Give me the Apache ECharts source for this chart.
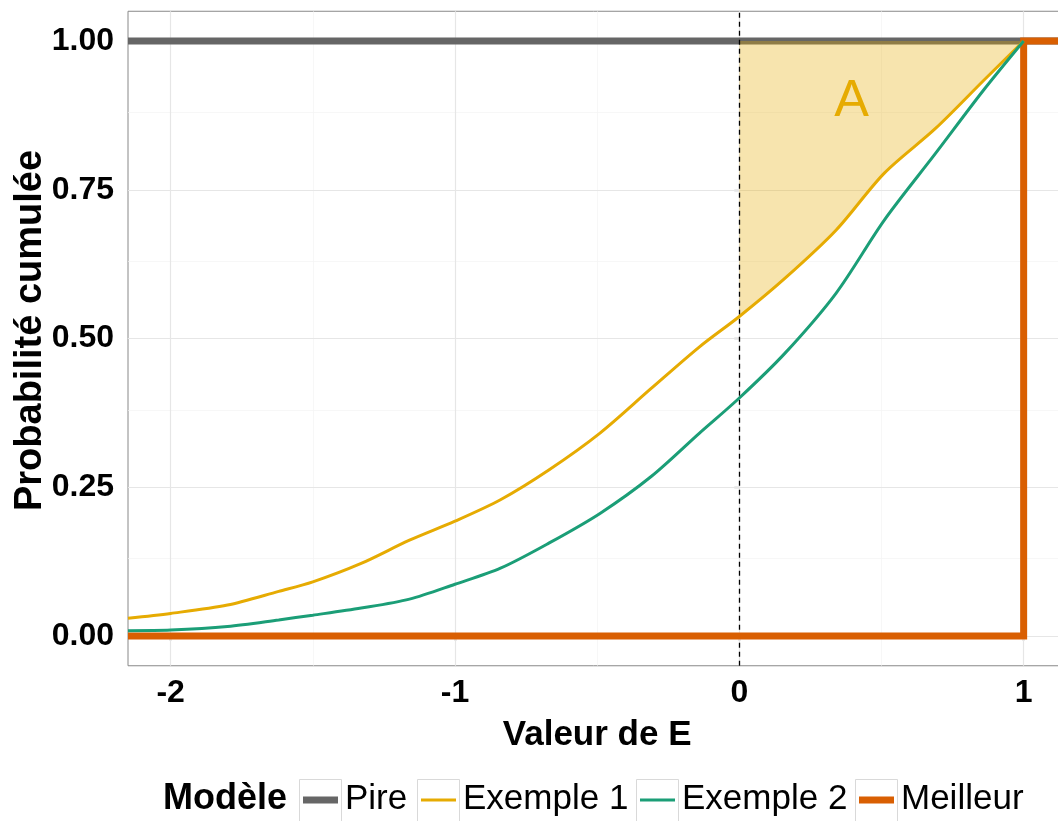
<!DOCTYPE html>
<html>
<head>
<meta charset="utf-8">
<script src="https://cdn.jsdelivr.net/npm/echarts@6/dist/echarts.min.js"></script>
<style>
html,body{margin:0;padding:0;background:#fff;}
#chart{width:1058px;height:821px;}
</style>
</head>
<body>
<div id="chart"></div>
<script>
// ---- data ----
const xTicks = [-2, -1, 0, 1];
const xMinor = [-1.5, -0.5, 0.5];
const yTicks = [0, 0.25, 0.5, 0.75, 1];
const yMinor = [0.125, 0.375, 0.625, 0.875];

const curveX = [-2.15, -2.0, -1.8, -1.62, -1.5, -1.33, -1.16, -1.0, -0.84, -0.67, -0.49, -0.31, -0.14, 0, 0.16, 0.34, 0.51, 0.69, 0.86, 1.0];
const ex1Y = [0.030, 0.038, 0.052, 0.075, 0.091, 0.122, 0.161, 0.193, 0.229, 0.279, 0.341, 0.416, 0.486, 0.537, 0.601, 0.682, 0.778, 0.853, 0.934, 1.0];
const ex2Y = [0.009, 0.010, 0.016, 0.027, 0.035, 0.047, 0.062, 0.087, 0.114, 0.156, 0.206, 0.268, 0.341, 0.400, 0.475, 0.576, 0.699, 0.811, 0.918, 1.0];

const pireX = [-2.15, 1.15];
const pireY = [1, 1];
const meilleurX = [-2.15, 1, 1, 1.15];
const meilleurY = [0, 0, 1, 1];

const refLineX = 0;
const areaTop = 1;
const annotation = { x: 0.395, y: 0.898, text: 'A' };

const seriesNames = ['Pire', 'Exemple 1', 'Exemple 2', 'Meilleur'];
const legendTitle = 'Modèle';

// ---- styles ----
const FONT = "'Liberation Sans', Arial, sans-serif";
const colors = { 'Pire': '#666666', 'Exemple 1': '#E6AB02', 'Exemple 2': '#1B9E77', 'Meilleur': '#D95F02' };
const widths = { 'Pire': 7, 'Exemple 1': 3, 'Exemple 2': 3, 'Meilleur': 7 };

const zip = (xs, ys) => xs.map((x, i) => [x, ys[i]]);
const ex1Pts = zip(curveX, ex1Y);
const areaPts = ex1Pts.filter(p => p[0] >= refLineX);

const chart = echarts.init(document.getElementById('chart'), null, { renderer: 'canvas' });

const legendBoxX = [299, 417, 636, 855];
const graphics = [{
  type: 'text', left: 163, top: 781,
  style: { text: legendTitle, font: 'bold 36px ' + FONT, fill: '#000' }
}];
seriesNames.forEach((n, i) => {
  const bx = legendBoxX[i];
  graphics.push({ type: 'rect', shape: { x: bx + 0.5, y: 779.5, width: 42, height: 42 }, style: { fill: '#fff', stroke: '#d9d9d9', lineWidth: 1 } });
  graphics.push({ type: 'line', shape: { x1: bx + 4, y1: 800, x2: bx + 39, y2: 800 }, style: { stroke: colors[n], lineWidth: widths[n] } });
  graphics.push({ type: 'text', left: bx + 46, top: 782, style: { text: n, font: '35px ' + FONT, fill: '#000' } });
});

const option = {
  backgroundColor: '#fff',
  animation: false,
  grid: { left: 128, top: 11.25, width: 938.3, height: 654.5, outerBoundsMode: 'none', containLabel: false, show: true, borderColor: '#888', borderWidth: 1, backgroundColor: 'transparent' },
  xAxis: {
    type: 'value', min: -2.15, max: 1.15,
    axisLine: { show: false },
    splitLine: { show: false },
    axisTick: { show: true, customValues: xTicks, length: 5, lineStyle: { color: '#333', width: 1.2 } },
    axisLabel: { customValues: xTicks, fontSize: 32, fontWeight: 'bold', color: '#000', fontFamily: FONT, margin: 11, formatter: v => String(v) },
    name: 'Valeur de E', nameLocation: 'middle', nameGap: 52, nameMoveOverlap: false,
    nameTextStyle: { fontSize: 35, fontWeight: 'bold', color: '#000', fontFamily: FONT }
  },
  yAxis: {
    type: 'value', min: -0.05, max: 1.05,
    axisLine: { show: false },
    splitLine: { show: false },
    axisTick: { show: true, customValues: yTicks, length: 5, lineStyle: { color: '#333', width: 1.2 } },
    axisLabel: { customValues: yTicks, fontSize: 32, fontWeight: 'bold', color: '#000', fontFamily: FONT, margin: 14, formatter: v => v.toFixed(2) },
    name: 'Probabilité cumulée', nameLocation: 'middle', nameGap: 78, nameMoveOverlap: false,
    nameTextStyle: { fontSize: 38, fontWeight: 'bold', color: '#000', fontFamily: FONT, padding: [0, 0, 0, 16] }
  },
  graphic: graphics,
  series: [
    {
      name: 'grid', type: 'line', z: 1, silent: true, symbol: 'none',
      data: [[pireX[0], pireY[0]]], lineStyle: { opacity: 0 },
      markLine: {
        z: 1, silent: true, symbol: 'none', label: { show: false }, animation: false,
        data: [].concat(
          xMinor.map(v => ({ xAxis: v, lineStyle: { color: '#f3f3f3', width: 0.7, type: 'solid' } })),
          yMinor.map(v => ({ yAxis: v, lineStyle: { color: '#f3f3f3', width: 0.7, type: 'solid' } })),
          xTicks.map(v => ({ xAxis: v, lineStyle: { color: '#e6e6e6', width: 1.2, type: 'solid' } })),
          yTicks.map(v => ({ yAxis: v, lineStyle: { color: '#e6e6e6', width: 1.2, type: 'solid' } }))
        )
      }
    },
    {
      name: 'Pire', type: 'line', z: 2, symbol: 'none', data: zip(pireX, pireY),
      lineStyle: { color: colors['Pire'], width: widths['Pire'], cap: 'butt' }
    },
    {
      name: 'A', type: 'line', z: 3, silent: true, symbol: 'none',
      data: areaPts, smooth: 0.3,
      lineStyle: { width: 0, opacity: 0 },
      areaStyle: { origin: areaTop, color: 'rgba(230,171,2,0.32)', opacity: 1 }
    },
    {
      name: 'A label', type: 'custom', z: 3, silent: true,
      data: [[annotation.x, annotation.y]],
      renderItem: function (params, api) {
        const tp = api.coord([api.value(0), api.value(1)]);
        return { type: 'text', x: tp[0], y: tp[1], style: { text: annotation.text, font: '52px ' + FONT, fill: '#E6AB02', align: 'center', verticalAlign: 'middle' } };
      }
    },
    {
      name: 'ref', type: 'line', z: 4, silent: true, symbol: 'none',
      data: [[refLineX, 0.5]], lineStyle: { opacity: 0 },
      markLine: {
        z: 4, silent: true, symbol: 'none', label: { show: false }, animation: false,
        data: [{ xAxis: refLineX }],
        lineStyle: { color: '#000', width: 1.3, type: [5, 4] }
      }
    },
    {
      name: 'Meilleur', type: 'line', z: 5, symbol: 'none', data: zip(meilleurX, meilleurY),
      lineStyle: { color: colors['Meilleur'], width: widths['Meilleur'], join: 'miter', cap: 'butt' }
    },
    {
      name: 'Exemple 1', type: 'line', z: 6, symbol: 'none', data: ex1Pts,
      smooth: 0.3,
      lineStyle: { color: colors['Exemple 1'], width: widths['Exemple 1'] }
    },
    {
      name: 'Exemple 2', type: 'line', z: 6, symbol: 'none', data: zip(curveX, ex2Y),
      smooth: 0.3,
      lineStyle: { color: colors['Exemple 2'], width: widths['Exemple 2'] }
    }
  ]
};
chart.setOption(option);
</script>
</body>
</html>
